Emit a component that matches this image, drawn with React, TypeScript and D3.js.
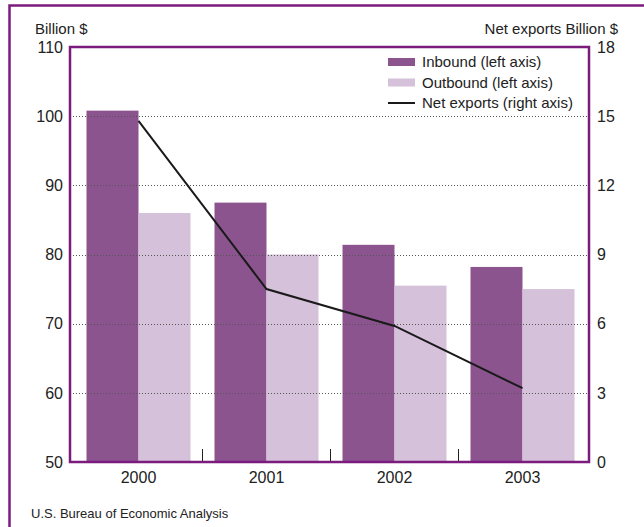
import React from "react";
import * as d3 from "d3";

const years = ["2000", "2001", "2002", "2003"];
const inbound = [100.8, 87.5, 81.4, 78.2];
const outbound = [86.0, 80.0, 75.5, 75.0];
const netExports = [14.8, 7.5, 5.9, 3.2];
const leftTicks = [50, 60, 70, 80, 90, 100, 110];
const rightTicks = [0, 3, 6, 9, 12, 15, 18];
const legendItems = ["Inbound (left axis)", "Outbound (left axis)", "Net exports (right axis)"];

const W = 644;
const H = 527;
const PURPLE = "#7b1b7d";
const C_IN = "#8b548e";
const C_OUT = "#d5c1da";
const FONT = "'Liberation Sans', Arial, Helvetica, sans-serif";

export default function App() {
  const plot = { left: 70, top: 47, right: 589, bottom: 462 };
  const yL = d3.scaleLinear().domain([50, 110]).range([plot.bottom, plot.top]);
  const yR = d3.scaleLinear().domain([0, 18]).range([plot.bottom, plot.top]);
  const x = d3.scaleBand().domain(years).range([73.5, 585.5]).paddingInner(0).paddingOuter(0);
  const x1 = d3.scaleBand().domain(["in", "out"]).range([13, x.bandwidth() - 11]).padding(0);

  const line = d3
    .line<number>()
    .x((_, i) => (x(years[i]) as number) + (x1("out") as number))
    .y((d) => yR(d));

  return (
    <svg
      width={W}
      height={H}
      style={{ position: "fixed", left: 0, top: 0, background: "#fff" }}
      fontFamily={FONT}
    >
      <rect x={0} y={0} width={W} height={H} fill="#fff" />
      {/* outer frame */}
      <path d={`M9.5,${H + 5} L9.5,5.5 L${W + 5},5.5`} fill="none" stroke={PURPLE} strokeWidth={2.5} />

      {/* bars */}
      {years.map((yr, i) => (
        <g key={yr}>
          <rect
            x={(x(yr) as number) + (x1("in") as number)}
            y={yL(inbound[i])}
            width={x1.bandwidth()}
            height={plot.bottom - yL(inbound[i])}
            fill={C_IN}
          />
          <rect
            x={(x(yr) as number) + (x1("out") as number)}
            y={yL(outbound[i])}
            width={x1.bandwidth()}
            height={plot.bottom - yL(outbound[i])}
            fill={C_OUT}
          />
        </g>
      ))}

      {/* gridlines */}
      {leftTicks
        .filter((t) => t !== 50 && t !== 110)
        .map((t) => (
          <line
            key={t}
            x1={plot.left}
            x2={plot.right}
            y1={Math.round(yL(t)) + 0.5}
            y2={Math.round(yL(t)) + 0.5}
            stroke="#555"
            strokeWidth={1}
            strokeDasharray="1,2"
          />
        ))}

      {/* net exports line */}
      <path d={line(netExports) || ""} fill="none" stroke="#1a1a1a" strokeWidth={2} />

      {/* category tick marks */}
      {years.slice(1).map((yr) => (
        <line
          key={yr}
          x1={Math.round(x(yr) as number) + 0.5}
          x2={Math.round(x(yr) as number) + 0.5}
          y1={449}
          y2={plot.bottom}
          stroke="#222"
          strokeWidth={1}
        />
      ))}

      {/* plot frame */}
      <rect
        x={plot.left}
        y={plot.top}
        width={plot.right - plot.left}
        height={plot.bottom - plot.top}
        fill="none"
        stroke={PURPLE}
        strokeWidth={2.5}
      />

      {/* left axis labels */}
      {leftTicks.map((t) => (
        <text key={t} x={63} y={yL(t)} dy="0.36em" textAnchor="end" fontSize={16} fill="#222">
          {t}
        </text>
      ))}
      {/* right axis labels */}
      {rightTicks.map((t) => (
        <text key={t} x={597} y={yR(t)} dy="0.36em" textAnchor="start" fontSize={16} fill="#222">
          {t}
        </text>
      ))}
      {/* x labels */}
      {years.map((yr) => (
        <text
          key={yr}
          x={(x(yr) as number) + (x1("out") as number)}
          y={483}
          textAnchor="middle"
          fontSize={16}
          fill="#222"
        >
          {yr}
        </text>
      ))}

      {/* axis titles */}
      <text x={35} y={34} fontSize={15} fill="#222">
        Billion $
      </text>
      <text x={618} y={34} fontSize={15} textAnchor="end" fill="#222">
        Net exports Billion $
      </text>

      {/* legend */}
      {legendItems.map((lab, i) => {
        const cy = 62 + i * 20.5;
        return (
          <g key={lab}>
            {i < 2 ? (
              <rect x={388} y={cy - 4} width={27} height={8} fill={i === 0 ? C_IN : C_OUT} />
            ) : (
              <line x1={388} x2={415} y1={cy} y2={cy} stroke="#1a1a1a" strokeWidth={2} />
            )}
            <text x={422} y={cy} dy="0.36em" fontSize={15} fill="#222">
              {lab}
            </text>
          </g>
        );
      })}

      {/* source */}
      <text x={31} y={518} fontSize={13} fill="#222">
        U.S. Bureau of Economic Analysis
      </text>
    </svg>
  );
}
